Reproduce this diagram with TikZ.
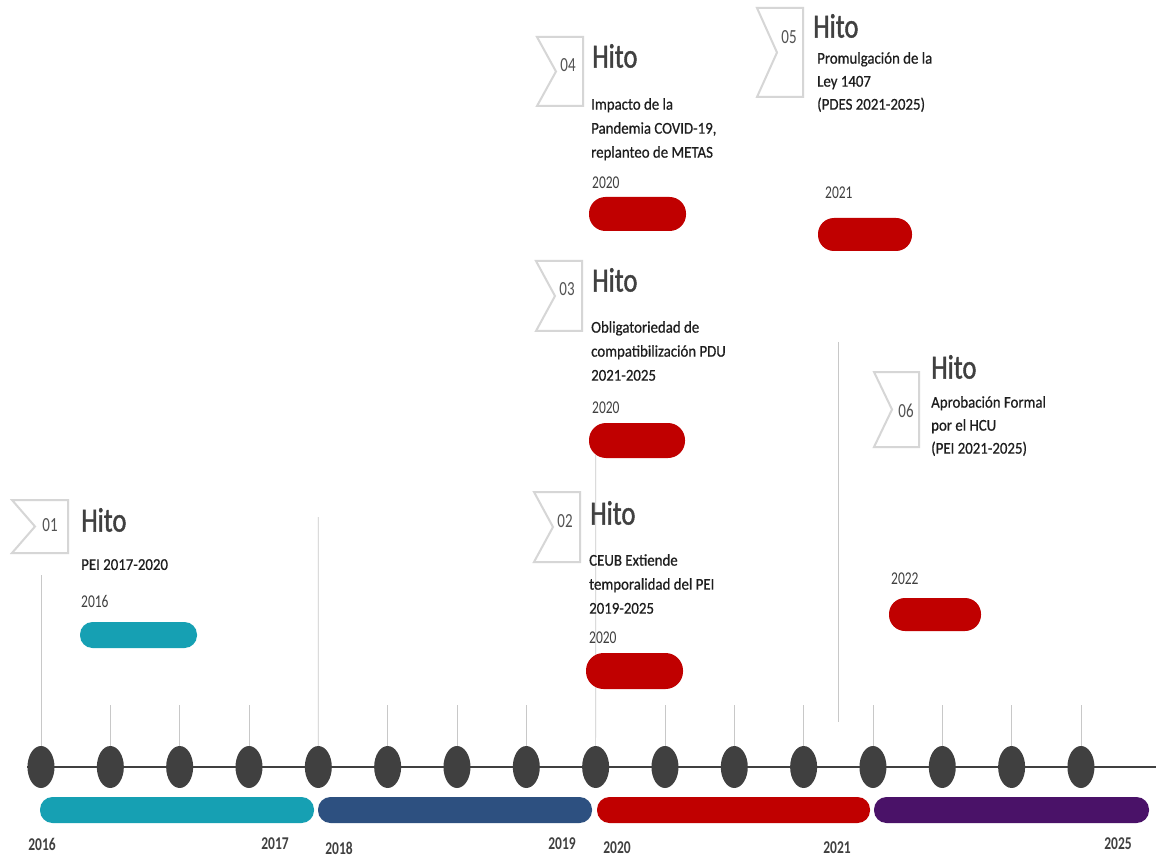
\documentclass[tikz,border=0pt]{standalone}
\usepackage{fontspec}
\setmainfont{Carlito}[FakeStretch=0.9,FakeBold=0.6]
\newfontfamily\hitof{Carlito}[FakeStretch=0.78,FakeBold=1.2]
\newfontfamily\numf{Carlito}[FakeStretch=0.75]
\usetikzlibrary{shapes.geometric}
\pgfdeclarelayer{back}
\pgfdeclarelayer{bg}
\pgfsetlayers{back,bg,main}
\definecolor{teal1}{HTML}{16A0B3}
\definecolor{navy1}{HTML}{2D5080}
\definecolor{red1}{HTML}{C00000}
\definecolor{purp1}{HTML}{4A1268}
\definecolor{dotc}{HTML}{404040}
\definecolor{flagc}{HTML}{D6D6D6}
\definecolor{tickc}{HTML}{C8C8C8}
\definecolor{hitoc}{HTML}{404040}
\definecolor{txtc}{HTML}{1E1E1E}
\tikzset{
  dotn/.style={ellipse, fill=dotc, minimum width=27pt, minimum height=42pt, inner sep=0pt},
  pill/.style={rectangle, inner sep=0pt},
  flagshape/.style={draw=flagc, line width=2pt, fill=white},
  numlab/.style={inner sep=0pt, text=hitoc!90, font=\numf\fontsize{20}{20}\selectfont},
  hitolab/.style={inner sep=0pt, anchor=west, text=hitoc, font=\hitof\fontsize{34}{34}\selectfont},
  body/.style={inner sep=0pt, anchor=north west, align=left, text=txtc, font=\fontsize{16.5}{24}\selectfont},
  yearsm/.style={inner sep=0pt, anchor=west, text=hitoc, font=\numf\fontsize{18}{18}\selectfont},
  yearbig/.style={inner sep=0pt, text=hitoc, font=\numf\bfseries\fontsize{18}{18}\selectfont},
  tickln/.style={draw=tickc, line width=0.7pt},
  axisln/.style={draw=dotc, line width=2.5pt}
}
\begin{document}
\begin{tikzpicture}[x=1pt,y=-1pt]
\begin{pgfonlayer}{back}
\fill[white] (0,0) rectangle (1156,858);
\end{pgfonlayer}
\useasboundingbox (0,0) rectangle (1156,858);

% timeline dots
\foreach \i in {0,...,15}{
  \node[dotn] (c\i) at ({41+69.33*\i},767) {};
}
\coordinate (lend) at (1156,767);
\foreach \i in {1,2,3,5,6,7,9,10,11,12,13,14,15}{
  \coordinate (t\i) at ({41+69.33*\i},705);
}
\coordinate (t0) at (41,575);
\coordinate (t4) at (318.3,517);
\coordinate (t8) at (595.7,455);
\coordinate (v1) at (838,342);
\coordinate (v2) at (838,722);
\begin{pgfonlayer}{bg}
  \draw[axisln] (c0.west) -- (lend);
  \foreach \i in {0,...,15}{
    \draw[tickln] (t\i) -- (c\i.north);
  }
  \draw[tickln] (v1) -- (v2);
\end{pgfonlayer}

% period bars
\node[pill, fill=teal1, minimum width=274pt, minimum height=26pt, rounded corners=12.5pt] (bar1) at (177,810) {};
\node[pill, fill=navy1, minimum width=274pt, minimum height=26pt, rounded corners=12.5pt] (bar2) at (455,810) {};
\node[pill, fill=red1, minimum width=273pt, minimum height=26pt, rounded corners=12.5pt] (bar3) at (733.5,810) {};
\node[pill, fill=purp1, minimum width=275pt, minimum height=26pt, rounded corners=12.5pt] (bar4) at (1011.5,810) {};

% bottom years
\node[yearbig] (y2016) at (42,844) {2016};
\node[yearbig] (y2017) at (275,844) {2017};
\node[yearbig] (y2018) at (339,848) {2018};
\node[yearbig] (y2019) at (562,844) {2019};
\node[yearbig] (y2020) at (617,848) {2020};
\node[yearbig] (y2021) at (837,848) {2021};
\node[yearbig] (y2025) at (1118,844) {2025};

% ---- Hito 01
\draw[flagshape] (12,500) -- (68,500) -- (68,553) -- (12,553) -- (35,526.5) -- cycle;
\node[numlab] (n01) at (50,525) {01};
\node[hitolab] (h01) at (81,520) {Hito};
\node[body] (b01) at (81,559) {PEI 2017-2020};
\node[yearsm] (s01) at (81,601) {2016};
\node[pill, fill=teal1, minimum width=117pt, minimum height=26pt, rounded corners=12.5pt] (p01) at (138.5,635) {};

% ---- Hito 04
\draw[flagshape] (537,37) -- (583,37) -- (583,106) -- (537,106) -- (556,71.5) -- cycle;
\node[numlab] (n04) at (568,65) {04};
\node[hitolab] (h04) at (592,56) {Hito};
\node[body] (b04) at (591,98) {Impacto de la\\Pandemia COVID-19,\\replanteo de METAS};
\node[yearsm] (s04) at (592,183) {2020};
\node[pill, fill=red1, minimum width=97pt, minimum height=34pt, rounded corners=16.5pt] (p04) at (637.5,214) {};

% ---- Hito 05
\draw[flagshape] (757,8) -- (803,8) -- (803,97) -- (757,97) -- (777,52.5) -- cycle;
\node[numlab] (n05) at (789,37) {05};
\node[hitolab] (h05) at (813,26) {Hito};
\node[body, font=\fontsize{16.5}{23}\selectfont] (b05) at (817,52) {Promulgación de la\\Ley 1407\\(PDES 2021-2025)};
\node[yearsm] (s05) at (825,193) {2021};
\node[pill, fill=red1, minimum width=94pt, minimum height=33pt, rounded corners=16pt] (p05) at (865,234.5) {};

% ---- Hito 03
\draw[flagshape] (536,261) -- (582,261) -- (582,331) -- (536,331) -- (555,296) -- cycle;
\node[numlab] (n03) at (567,289) {03};
\node[hitolab] (h03) at (592,280) {Hito};
\node[body] (b03) at (591,321) {Obligatoriedad de\\compatibilización PDU\\2021-2025};
\node[yearsm] (s03) at (592,408) {2020};
\node[pill, fill=red1, minimum width=96pt, minimum height=35pt, rounded corners=17pt] (p03) at (637,440.5) {};

% ---- Hito 02
\draw[flagshape] (534,492) -- (580,492) -- (580,562) -- (534,562) -- (553,527) -- cycle;
\node[numlab] (n02) at (565,521) {02};
\node[hitolab] (h02) at (590,513) {Hito};
\node[body] (b02) at (589,554) {CEUB Extiende\\temporalidad del PEI\\2019-2025};
\node[yearsm] (s02) at (589,638) {2020};
\node[pill, fill=red1, minimum width=97pt, minimum height=36pt, rounded corners=17.5pt] (p02) at (634.5,671) {};

% ---- Hito 06
\draw[flagshape] (874,372) -- (919,372) -- (919,447) -- (874,447) -- (892,409.5) -- cycle;
\node[numlab] (n06) at (906,411) {06};
\node[hitolab] (h06) at (931,367) {Hito};
\node[body, font=\fontsize{16.5}{23}\selectfont] (b06) at (931,396) {Aprobación Formal\\por el HCU\\(PEI 2021-2025)};
\node[yearsm] (s06) at (891,579) {2022};
\node[pill, fill=red1, minimum width=92pt, minimum height=33pt, rounded corners=16pt] (p06) at (935,614.5) {};
\end{tikzpicture}
\end{document}
